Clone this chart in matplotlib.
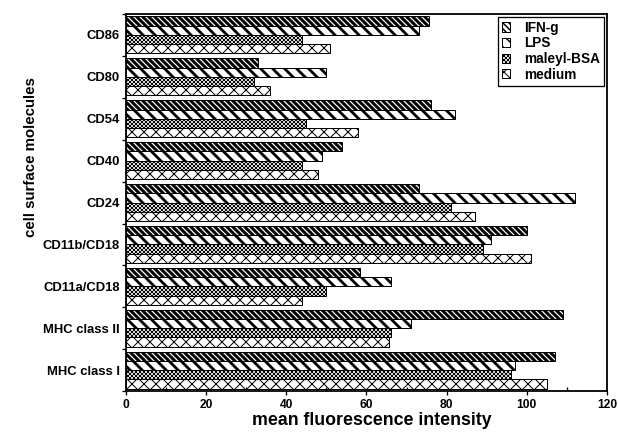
import matplotlib.pyplot as plt
import numpy as np

plt.rcParams['font.family'] = 'Liberation Sans'
plt.rcParams['font.weight'] = 'bold'

molecules = ['MHC class I', 'MHC class II', 'CD11a/CD18', 'CD11b/CD18',
             'CD24', 'CD40', 'CD54', 'CD80', 'CD86']
ifn_g = [107, 109, 58.5, 100, 73, 54, 76, 33, 75.5]
lps = [97, 71, 66, 91, 112, 49, 82, 50, 73]
maleyl_bsa = [96, 66, 50, 89, 81, 44, 45, 32, 44]
medium = [105, 65.5, 44, 101, 87, 48, 58, 36, 51]

# name, values, hatch, hatch linewidth
series = [('IFN-g', ifn_g, '\\\\\\\\', 3.0),
          ('LPS', lps, '\\\\', 2.8),
          ('maleyl-BSA', maleyl_bsa, 'xxxxxx', 0.8),
          ('medium', medium, 'xx', 1.0)]

# dpi 72 so that one hatch unit is 72 px
fig = plt.figure(figsize=(618 / 72, 437 / 72), dpi=72)
ax = fig.add_axes([0.204, 0.105, 0.778, 0.863])

y = np.arange(len(molecules))
h = 0.22
for i, (name, vals, hatch, hlw) in enumerate(series):
    off = (1.5 - i) * h
    bars = ax.barh(y + off, vals, height=h, color='white', edgecolor='black',
                   linewidth=1.0, hatch=hatch, label=name)
    for b in bars:
        b.set_hatch_linewidth(hlw)

ax.set_xlim(0, 120)
ax.set_ylim(-0.45, 8.45)
ax.set_xticks(np.arange(0, 121, 20))
ax.set_xticks(np.arange(10, 120, 20), minor=True)
ax.tick_params(axis='x', which='major', direction='out', length=4, labelsize=12, width=1.3)
ax.tick_params(axis='x', which='minor', direction='in', length=4, width=1.3)
ax.set_yticks(y)
ax.set_yticklabels(molecules)
ax.set_yticks(np.arange(-0.5, 8.6, 1), minor=True)
ax.tick_params(axis='y', which='major', length=0, labelsize=13, pad=6)
ax.tick_params(axis='y', which='minor', direction='out', length=4, width=1.3)
for s in ax.spines.values():
    s.set_linewidth(1.8)

ax.set_xlabel('mean fluorescence intensity', fontsize=17.8, fontweight='bold')
ax.xaxis.set_label_coords(0.512, -0.055)
ax.set_ylabel('cell surface molecules', fontsize=15, fontweight='bold')
ax.yaxis.set_label_coords(-0.183, 0.62)

leg = ax.legend(loc='upper right', fontsize=13.6, fancybox=False, edgecolor='black',
                framealpha=1, handlelength=0.65, handleheight=0.65, handletextpad=1.0,
                borderaxespad=0.2, labelspacing=0.12, borderpad=0.3)
leg.get_frame().set_linewidth(1.3)
for p, s in zip(leg.get_patches(), series):
    p.set_hatch_linewidth(min(s[3], 1.5))

fig.savefig('out.png', dpi=72)
